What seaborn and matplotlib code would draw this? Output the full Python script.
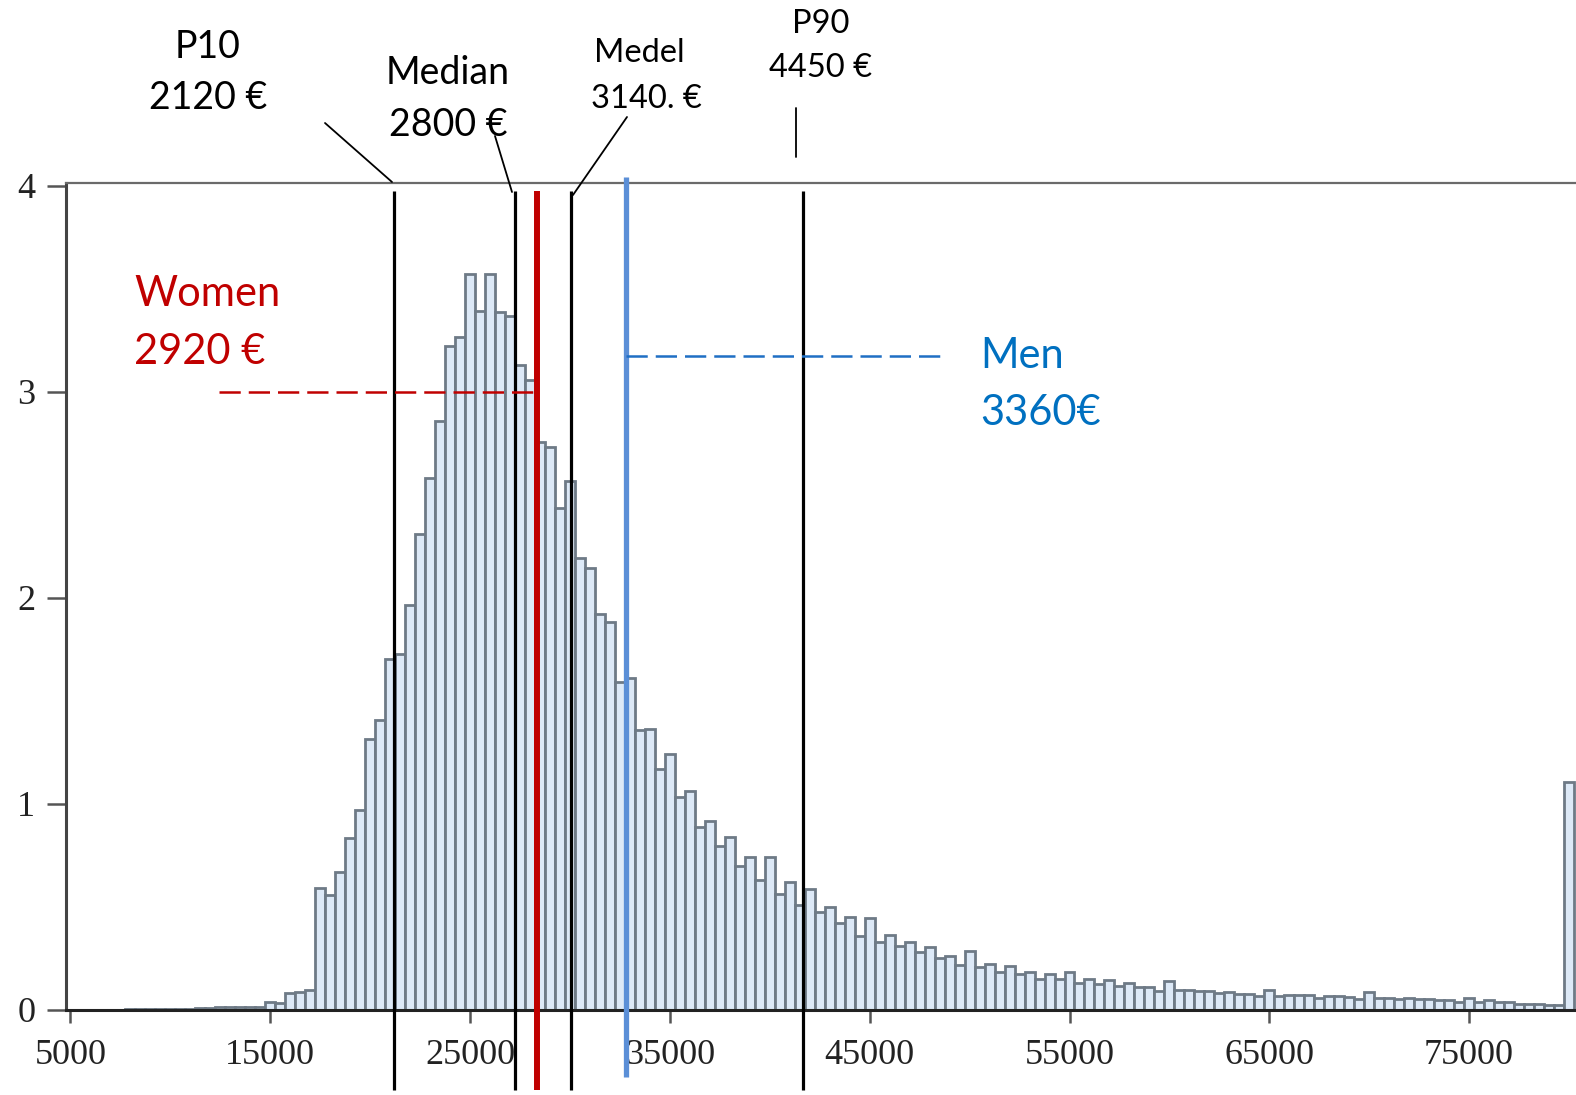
import numpy as np
import pandas as pd
import matplotlib
matplotlib.use("Agg")
import matplotlib.pyplot as plt
import seaborn as sns

# ---------------- data ----------------
bin_start = 8000
bin_width = 500
heights = [
    0.003, 0.003, 0.003, 0.003, 0.003, 0.003, 0.004, 0.005, 0.008, 0.010,   # 8000-12500
    0.011, 0.012, 0.012, 0.013, 0.035, 0.030, 0.079, 0.087, 0.097, 0.592,   # 13000-17500
    0.557, 0.668, 0.834, 0.969, 1.313, 1.403, 1.701, 1.725, 1.964, 2.308,   # 18000-22500
    2.578, 2.855, 3.223, 3.265, 3.571, 3.391, 3.571, 3.384, 3.365, 3.128,   # 23000-27500
    3.055, 2.754, 2.730, 2.436, 2.564, 2.192, 2.145, 1.919, 1.879, 1.592,   # 28000-32500
    1.607, 1.356, 1.364, 1.167, 1.238, 1.032, 1.061, 0.887, 0.916, 0.793,   # 33000-37500
    0.835, 0.697, 0.738, 0.628, 0.741, 0.560, 0.617, 0.505, 0.584, 0.474,   # 38000-42500
    0.498, 0.421, 0.447, 0.359, 0.442, 0.327, 0.362, 0.307, 0.330, 0.277,   # 43000-47500
    0.301, 0.248, 0.259, 0.215, 0.285, 0.204, 0.223, 0.183, 0.212, 0.172,   # 48000-52500
    0.183, 0.150, 0.170, 0.150, 0.180, 0.131, 0.146, 0.126, 0.141, 0.113,   # 53000-57500
    0.129, 0.108, 0.108, 0.092, 0.138, 0.094, 0.097, 0.089, 0.089, 0.078,   # 58000-62500
    0.086, 0.073, 0.076, 0.065, 0.097, 0.065, 0.070, 0.068, 0.068, 0.057,   # 63000-67500
    0.065, 0.065, 0.061, 0.049, 0.084, 0.057, 0.057, 0.049, 0.055, 0.053,   # 68000-72500
    0.049, 0.045, 0.044, 0.037, 0.057, 0.037, 0.045, 0.037, 0.037, 0.029,   # 73000-77500
    0.029, 0.028, 0.024, 0.021, 1.104,                                      # 78000-80000
]
bin_centers = [bin_start + bin_width * i for i in range(len(heights))]

x_ticks = [5000, 15000, 25000, 35000, 45000, 55000, 65000, 75000]
y_ticks = [0, 1, 2, 3, 4]

stat_names = ["P10", "Median", "Medel", "P90"]
stat_values = ["2120 €", "2800 €", "3140. €", "4450 €"]
stat_x = [21215, 27247, 30072, 41650]

women_label = ["Women", "2920 €"]
women_x = 28343
women_level = 3.0
men_label = ["Men", "3360€"]
men_x = 32778
men_level = 3.172

# ---------------- style ----------------
sns.set_style("white")
plt.rcParams["font.family"] = ["Lato", "DejaVu Sans"]

W, H = 1576, 1095
fig = plt.figure(figsize=(W / 100, H / 100), dpi=100)
ax_left, ax_top, ax_bottom = 65.7, 183.0, 1009.5
ax = fig.add_axes([ax_left / W, 1 - ax_bottom / H, (W - ax_left) / W, (ax_bottom - ax_top) / H])

df = pd.DataFrame({"wage": bin_centers, "density": heights})
sns.histplot(data=df, x="wage", weights="density",
             binwidth=bin_width,
             binrange=(bin_start - bin_width / 2, bin_centers[-1] + bin_width / 2),
             ax=ax, color="#DDE9F7", edgecolor="#6E7A86", linewidth=2.0, alpha=1)

ax.set_xlim(4760, 80350)
ax.set_ylim(0, (ax_bottom - ax_top) / 206.0)
ax.set_xlabel("")
ax.set_ylabel("")
ax.set_xticks(x_ticks)
ax.set_xticklabels([str(t) for t in x_ticks])
ax.set_yticks(y_ticks)
ax.set_yticklabels([str(t) for t in y_ticks])
for lab in ax.get_xticklabels() + ax.get_yticklabels():
    lab.set_family(["Liberation Serif", "DejaVu Serif"])
    lab.set_fontsize(26)
    lab.set_color("#222222")
ax.tick_params(axis="x", bottom=True, direction="out", length=9, width=1.8,
               color="#555555", pad=12)
ax.tick_params(axis="y", left=True, direction="out", length=14, width=1.8,
               color="#555555", pad=8)
ax.spines["right"].set_visible(False)
ax.spines["top"].set_color("#6a6a6a")
ax.spines["top"].set_linewidth(1.6)
ax.spines["left"].set_color("#444444")
ax.spines["left"].set_linewidth(2.2)
ax.spines["bottom"].set_color("#222222")
ax.spines["bottom"].set_linewidth(2.2)

# ---------------- reference lines ----------------
def py2y(py):
    return (ax_bottom - py) / 206.0

line_top = py2y(191)
line_bot = py2y(1090)
for xv in stat_x:
    ax.plot([xv, xv], [line_bot, line_top], color="black", lw=2.3, clip_on=False,
            solid_capstyle="butt", zorder=5)
ax.plot([women_x, women_x], [line_bot, line_top], color="#C00000", lw=4.3,
        clip_on=False, solid_capstyle="butt", zorder=6)
ax.plot([men_x, men_x], [py2y(1077), py2y(177)], color="#5B8FD7", lw=3.8,
        clip_on=False, solid_capstyle="butt", zorder=6)

# dashed connectors to the labels
ax.plot([12430, women_x], [women_level, women_level], color="#C00000", lw=1.8,
        linestyle=(0, (8.5, 3.2)), zorder=6, clip_on=False)
ax.plot([men_x, 48670], [men_level, men_level], color="#1F6FC4", lw=1.8,
        linestyle=(0, (8.5, 3.2)), zorder=6, clip_on=False)

# leader lines for the statistic labels (from label towards line top)
leaders = [((17738, py2y(123)), (21091, py2y(182))),
           ((26246, py2y(136)), (27097, py2y(192))),
           ((32853, py2y(117)), (30150, py2y(195))),
           ((41311, py2y(107.5)), (41311, py2y(156.7)))]
for (x0, y0), (x1, y1) in leaders:
    ax.plot([x0, x1], [y0, y1], color="black", lw=1.3, clip_on=False, zorder=6)

# ---------------- texts ----------------
def ftext(x, y, s, **kw):
    fig.text(x / W, 1 - y / H, s, **kw)

label_pos = [((208, 58.3), (208, 108.5), 27),
             ((448, 84.4), (448, 135.5), 27),
             ((639, 62.3), (646, 107.5), 23.5),
             ((821, 33.2), (821, 77.4), 23.5)]
for name, val, ((x1, y1), (x2, y2), fs) in zip(stat_names, stat_values, label_pos):
    ftext(x1, y1, name, ha="center", va="baseline", fontsize=fs, color="black")
    ftext(x2, y2, val, ha="center", va="baseline", fontsize=fs, color="black")

ftext(134, 306.5, women_label[0], ha="left", va="baseline", fontsize=30, color="#C00000")
ftext(134, 363.5, women_label[1], ha="left", va="baseline", fontsize=30, color="#C00000")
ftext(980, 368, men_label[0], ha="left", va="baseline", fontsize=30, color="#0070C0")
ftext(980, 425, men_label[1], ha="left", va="baseline", fontsize=30, color="#0070C0")

fig.savefig("out.png", dpi=100)
